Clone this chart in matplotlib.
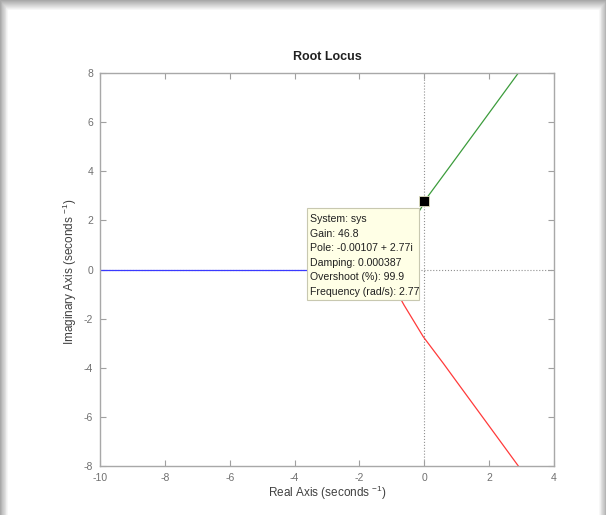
import matplotlib
matplotlib.use("Agg")
import matplotlib.pyplot as plt
from matplotlib.patches import Rectangle

plt.rcParams['font.family'] = ['Liberation Sans', 'DejaVu Sans']
plt.rcParams['axes.unicode_minus'] = False
plt.rcParams['mathtext.fontset'] = 'custom'
plt.rcParams['mathtext.rm'] = 'Liberation Sans'
plt.rcParams['mathtext.it'] = 'Liberation Sans'

# root locus branches
blue_x = [-10.0, -3.0]
blue_y = [0.0, 0.0]
green_x = [-1.15, -1.0, -0.62, -0.13, 0.124, 0.793, 1.82, 2.90]
green_y = [0.0, 0.55, 1.45, 2.43, 3.0, 4.2, 6.05, 8.0]
red_x = [-1.15, -1.0, -0.626, -0.03, 0.586, 1.0, 2.026, 2.90]
red_y = [0.0, -0.55, -1.445, -2.74, -3.82, -4.57, -6.42, -8.0]

# selected point (data tip)
tip_x = -0.00107
tip_y = 2.77
tip_lines = ["System: sys", "Gain: 46.8", "Pole: -0.00107 + 2.77i",
             "Damping: 0.000387", "Overshoot (%): 99.9", "Frequency (rad/s): 2.77"]

xticks = [-10, -8, -6, -4, -2, 0, 2, 4]
yticks = [-8, -6, -4, -2, 0, 2, 4, 6, 8]

W, H = 606, 515
fig = plt.figure(figsize=(W / 100, H / 100), dpi=100)

# drop shadow around the white page
grey = 0.66
steps = 10
for k in range(steps):
    c = grey + (1 - grey) * k / steps
    lx = 8 * k / steps
    ty = 10 * k / steps
    fig.patches.append(Rectangle((lx / W, 0), 1 - 2 * lx / W, 1 - ty / H,
                                 transform=fig.transFigure, color=str(c), zorder=-10 + k * 0.01))
fig.patches.append(Rectangle((8 / W, 0), 1 - 16 / W, 1 - 10 / H,
                             transform=fig.transFigure, color='white', zorder=-9))

ax = fig.add_axes([100 / W, 1 - 466 / H, 454 / W, 393 / H])
ax.set_facecolor('white')

ax.axvline(0, color='#909090', ls=':', lw=0.8, zorder=1)
ax.axhline(0, color='#909090', ls=':', lw=0.8, zorder=1)

ax.plot(blue_x, blue_y, color='#3a3aff', lw=0.9, zorder=2)
ax.plot(green_x, green_y, color='#3c9c3c', lw=0.9, zorder=2)
ax.plot(red_x, red_y, color='#ff3a3a', lw=0.9, zorder=2)

ax.set_xlim(-10, 4)
ax.set_ylim(-8, 8)
ax.set_xticks(xticks)
ax.set_yticks(yticks)
ax.tick_params(direction='in', length=4, width=0.8, colors='#a0a0a0',
               labelcolor='#707070', labelsize=7.5, top=True, right=True, pad=5)
for s in ax.spines.values():
    s.set_color('#a8a8a8')
    s.set_linewidth(1.0)

ax.set_title("Root Locus", fontsize=9, fontweight='bold', color='#202020', pad=9)
fig.text(327 / W, 1 - 493 / H, "Real Axis (seconds $^{-1}$)", ha='center', va='center',
         fontsize=8.5, color='#404040')
fig.text(70 / W, 1 - 272 / H, "Imaginary Axis (seconds $^{-1}$)", ha='center', va='center',
         rotation=90, fontsize=8.5, color='#404040')

# data tip box
box_x0, box_x1 = -3.63, -0.16
box_y0, box_y1 = -1.24, 2.50
ax.add_patch(Rectangle((box_x0, box_y0), box_x1 - box_x0, box_y1 - box_y0,
                       facecolor='#ffffe6', edgecolor='#c8c8b0', lw=0.8, zorder=5))
line_h = (box_y1 - box_y0) / 6.3
for i, t in enumerate(tip_lines):
    ax.text(box_x0 + 0.1, box_y1 - line_h * (i + 0.75), t, fontsize=7.6,
            color='#202020', ha='left', va='center', zorder=6)

ax.plot([tip_x], [tip_y], marker='s', ms=7, color='black', mec='#e0e0c0', mew=0.6, zorder=7)

fig.savefig("out.png", dpi=100)
